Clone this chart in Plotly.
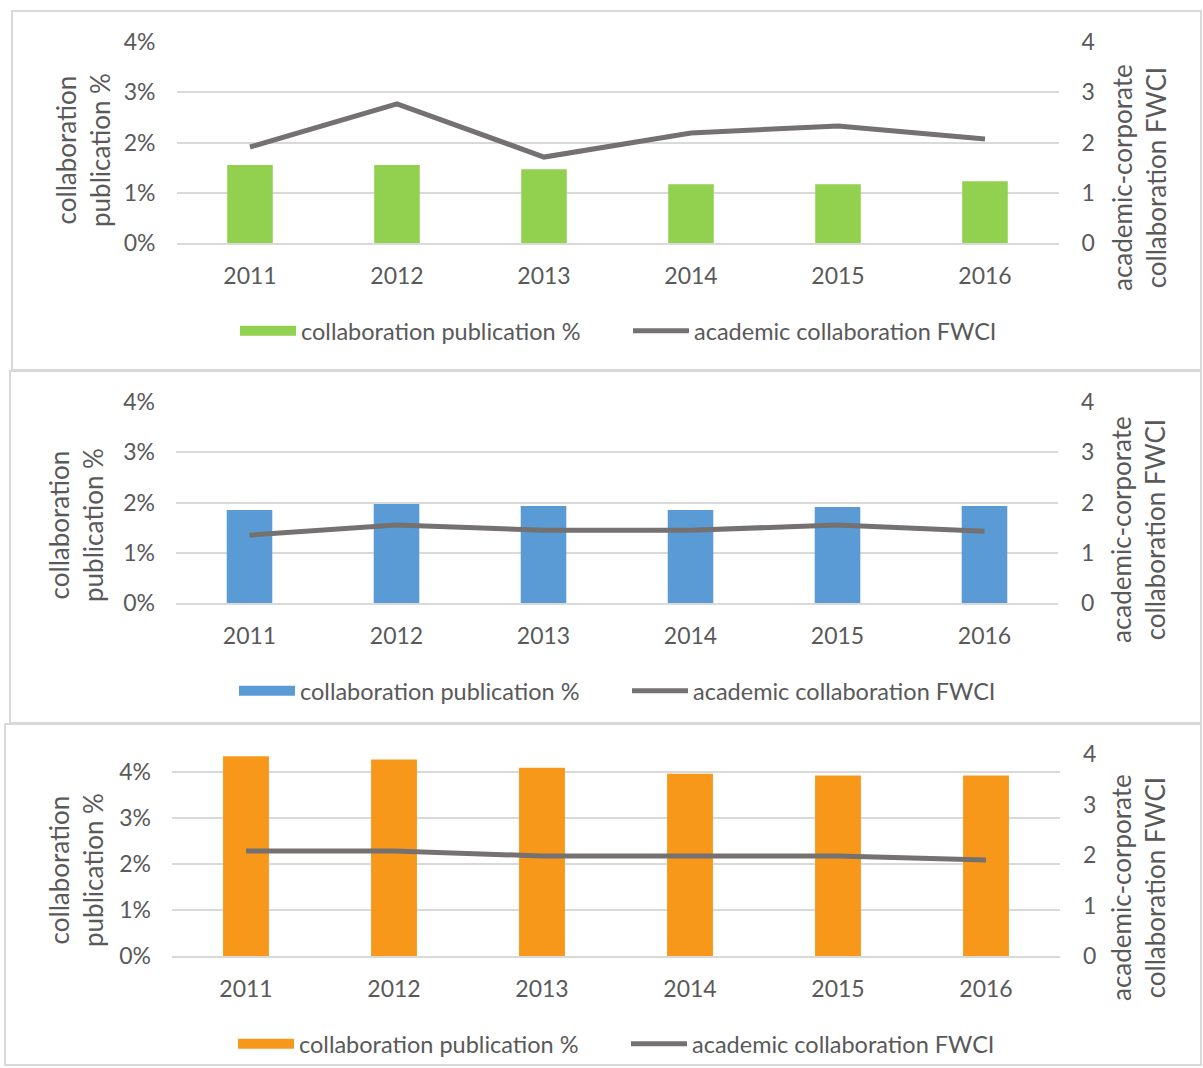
import plotly.graph_objects as go

W, H = 1203, 1068

years = ["2011", "2012", "2013", "2014", "2015", "2016"]

# panel 1 (green)
pub_pct_1 = [0.0155, 0.0155, 0.0147, 0.0117, 0.0117, 0.0123]
fwci_1 = [1.91, 2.77, 1.71, 2.19, 2.33, 2.07]
# panel 2 (blue)
pub_pct_2 = [0.0185, 0.0197, 0.0193, 0.0185, 0.0191, 0.0193]
fwci_2 = [1.35, 1.55, 1.45, 1.45, 1.55, 1.43]
# panel 3 (orange)
pub_pct_3 = [0.0435, 0.0428, 0.0410, 0.0397, 0.0393, 0.0393]
fwci_3 = [2.08, 2.08, 1.98, 1.98, 1.98, 1.90]

bar_name = "collaboration publication %"
line_name = "academic collaboration FWCI"
left_title = "collaboration<br>publication %"
right_title = "academic-corporate<br>collaboration FWCI"

FONT = "Lato, 'Open Sans', sans-serif"
TXT = "#595959"
GRID = "#d9d9d9"
LINEC = "#767171"
TICK = 23
LEG = 23.5
TITLE = 26


def px(x):
    return x / W


def py(y):
    return 1 - y / H


panels = [
    dict(pct=pub_pct_1, fwci=fwci_1, color="#92d050",
         plot=(176.5, 1058.5, 42, 243), lrange=[0, 0.04],
         box=(12, 1201, 11, 370), legend=(235, 331),
         ltitle=(83, 150), rtitle=(1139, 178)),
    dict(pct=pub_pct_2, fwci=fwci_2, color="#5b9bd5",
         plot=(176, 1058, 402, 603), lrange=[0, 0.04],
         box=(10, 1201, 371, 723), legend=(234, 691),
         ltitle=(76, 525), rtitle=(1138, 530)),
    dict(pct=pub_pct_3, fwci=fwci_3, color="#f7981b",
         plot=(172, 1060, 754, 956), lrange=[0, 0.044],
         box=(5, 1201, 724, 1065), legend=(233, 1044),
         ltitle=(76, 870), rtitle=(1138, 888)),
]

fig = go.Figure()
layout = dict(
    width=W, height=H,
    margin=dict(l=0, r=0, t=0, b=0, pad=0, autoexpand=False),
    paper_bgcolor="white", plot_bgcolor="white",
    font=dict(family=FONT, color=TXT, size=TICK),
    showlegend=True,
    shapes=[], annotations=[],
)

for i, p in enumerate(panels):
    n = i + 1
    xa = "x" if n == 1 else f"x{n}"
    ya = f"y{2*n-1}" if n > 1 else "y"
    yb = f"y{2*n}"
    lg = "legend" if n == 1 else f"legend{n}"
    x0, x1, y0, y1 = p["plot"]

    fig.add_trace(go.Bar(
        x=years, y=p["pct"], name=bar_name, xaxis=xa, yaxis=ya,
        marker=dict(color=p["color"], line=dict(width=0)), width=0.31,
        showlegend=False, hoverinfo="skip"))
    # legend-only entry drawn as a wide swatch
    fig.add_trace(go.Scatter(
        x=[None], y=[None], name=bar_name, xaxis=xa, yaxis=ya,
        mode="lines", line=dict(color=p["color"], width=15),
        legend=lg, hoverinfo="skip"))
    fig.add_trace(go.Scatter(
        x=years, y=p["fwci"], name=line_name, xaxis=xa, yaxis=yb,
        mode="lines", line=dict(color=LINEC, width=5),
        legend=lg, hoverinfo="skip"))

    xkey = "xaxis" if n == 1 else f"xaxis{n}"
    ykey = "yaxis" if n == 1 else f"yaxis{2*n-1}"
    y2key = f"yaxis{2*n}"
    layout[xkey] = dict(
        domain=[px(x0), px(x1)], anchor=ya, type="category",
        showgrid=False, showline=True, linecolor=GRID, linewidth=2,
        ticks="", ticklabelstandoff=11, tickfont=dict(size=TICK, color=TXT),
        fixedrange=True)
    layout[ykey] = dict(
        domain=[py(y1), py(y0)], anchor=xa, range=p["lrange"],
        dtick=0.01, tick0=0, tickformat=".0%", showgrid=True,
        gridcolor=GRID, gridwidth=2, zeroline=False, showline=False,
        ticks="", ticklabelstandoff=20, tickfont=dict(size=TICK, color=TXT),
        fixedrange=True)
    layout[y2key] = dict(
        domain=[py(y1), py(y0)], anchor=xa, overlaying=ya, side="right",
        range=[0, 4], dtick=1, tick0=0, showgrid=False, zeroline=False,
        showline=False, ticks="", ticklabelstandoff=22,
        tickfont=dict(size=TICK, color=TXT), fixedrange=True)
    lx0, ly = p["legend"]
    layout[lg] = dict(
        orientation="h", x=px(lx0), xanchor="left",
        y=py(ly), yanchor="middle",
        font=dict(size=LEG, color=TXT), bgcolor="rgba(0,0,0,0)",
        itemwidth=56, entrywidth=322, entrywidthmode="pixels")

    bx0, bx1, by0, by1 = p["box"]
    layout["shapes"].append(dict(
        type="rect", xref="paper", yref="paper",
        x0=px(bx0), x1=px(bx1), y0=py(by1), y1=py(by0),
        line=dict(color=GRID, width=2), fillcolor="rgba(0,0,0,0)",
        layer="below"))
    lx, lyy = p["ltitle"]
    layout["annotations"].append(dict(
        text=left_title, xref="paper", yref="paper", x=px(lx), y=py(lyy),
        xanchor="center", yanchor="middle", textangle=-90,
        showarrow=False, font=dict(size=TITLE, color=TXT)))
    rx, ry = p["rtitle"]
    layout["annotations"].append(dict(
        text=right_title, xref="paper", yref="paper", x=px(rx), y=py(ry),
        xanchor="center", yanchor="middle", textangle=-90,
        showarrow=False, font=dict(size=TITLE, color=TXT)))

fig.update_layout(**layout)
fig.write_html("out.html", config={"displayModeBar": False})
